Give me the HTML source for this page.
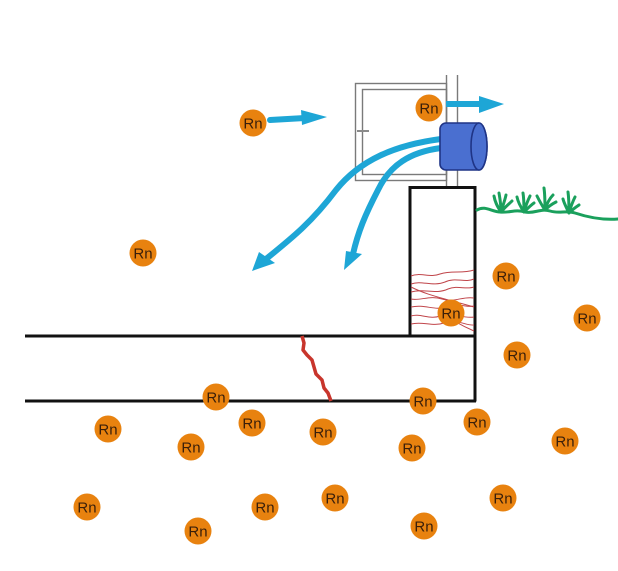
<!DOCTYPE html>
<html><head><meta charset="utf-8"><style>
html,body{margin:0;padding:0;background:#fff;}
svg{display:block;}
text{font-family:"Liberation Sans",sans-serif;font-size:15px;fill:#3a1f0a;text-anchor:middle;dominant-baseline:central;}
</style></head><body>
<svg width="618" height="571" viewBox="0 0 618 571" xmlns="http://www.w3.org/2000/svg">
<rect width="618" height="571" fill="#fff"/>
<!-- window -->
<g fill="none" stroke="#7a7a7a" stroke-width="1.4">
<rect x="355.5" y="83.5" width="91" height="97"/>
<rect x="362.5" y="89.5" width="84" height="85"/>
<line x1="446.5" y1="75" x2="446.5" y2="187"/>
<line x1="457.5" y1="75" x2="457.5" y2="187"/>
</g>
<line x1="357" y1="131" x2="369" y2="131" stroke="#8a8a8a" stroke-width="2"/>
<!-- top arrow -->
<line x1="446" y1="104" x2="482" y2="104" stroke="#1ea6d6" stroke-width="6"/>
<polygon points="479,96 504,104 479,113" fill="#1ea6d6"/>
<!-- left arrow -->
<line x1="270" y1="120" x2="305" y2="118" stroke="#1ea6d6" stroke-width="6" stroke-linecap="round"/>
<polygon points="301,110 327,117 302,125" fill="#1ea6d6"/>
<!-- curved arrows -->
<path d="M441,139 C395,145 360,160 336,190 C312,222 292,238 266,259" fill="none" stroke="#1ea6d6" stroke-width="6"/>
<polygon points="252,271 259,252 275,263" fill="#1ea6d6"/>
<path d="M441,148 C410,152 390,165 378,190 C365,215 358,232 353,254" fill="none" stroke="#1ea6d6" stroke-width="6"/>
<polygon points="344,270 346,251 362,254" fill="#1ea6d6"/>
<!-- fan -->
<path d="M446,123 L479,123 A8,23.5 0 0 1 479,170 L446,170 A6,6 0 0 1 440,164 L440,129 A6,6 0 0 1 446,123 Z" fill="#4a6fd0" stroke="#1f3486" stroke-width="1.6"/>
<ellipse cx="479" cy="146.5" rx="8" ry="23.5" fill="#4a6fd0" stroke="#1f3486" stroke-width="1.6"/>
<!-- wall -->
<g fill="none" stroke="#111" stroke-width="3">
<polyline points="410,336 410,187.5 475,187.5 475,401.5"/>
<line x1="25" y1="336" x2="475" y2="336"/>
<line x1="25" y1="401" x2="476" y2="401"/>
</g>
<!-- red fibers -->
<g fill="none" stroke="#c0454a" stroke-width="1">
<path d="M411,276 C420,272 430,278 440,274 C452,270 462,274 474,270"/>
<path d="M411,284 C422,280 432,287 445,282 C455,277 465,283 474,279"/>
<path d="M411,292 C425,288 435,295 448,289 C458,285 466,290 474,287"/>
<path d="M411,299 C420,301 430,295 442,299 C455,303 462,296 474,298"/>
<path d="M411,307 C425,304 435,311 446,307 C458,302 466,308 474,306"/>
<path d="M411,316 C420,313 430,320 440,316 C452,311 462,319 474,317"/>
<path d="M411,324 C423,321 432,327 444,323 C456,318 466,326 474,325"/>
<path d="M411,287 C425,294 438,297 452,301 C460,303 467,305 474,307"/>
<path d="M440,311 C450,319 460,325 474,331"/>
</g>
<!-- crack -->
<polyline points="302,336 304,343 303,350 307,355 312,360 314,367 316,374 322,380 324,388 328,393 331,401" fill="none" stroke="#c8352c" stroke-width="3.5" stroke-linejoin="round"/>
<!-- grass -->
<g fill="none" stroke="#1aa05c" stroke-width="3" stroke-linecap="round">
<path d="M477,210 C485,205 492,212 500,212 C510,213 515,209 525,212 C535,214 540,208 550,211 C560,214 565,210 575,213 C590,218 605,220 618,219"/>
<path d="M501,212 C497,206 495,202 494,196 M501,212 C501,204 500,199 499,193 M501,212 C503,205 505,200 506,195 M501,212 C505,207 509,204 512,201"/>
<path d="M524,212 C520,206 518,202 517,197 M524,212 C524,204 524,199 523,193 M524,212 C526,205 528,200 530,196 M524,212 C528,208 531,205 534,203"/>
<path d="M545,210 C541,204 539,200 537,196 M545,210 C545,202 545,195 544,188 M545,210 C547,203 550,198 553,195 M545,210 C549,206 552,204 556,202"/>
<path d="M569,213 C566,207 564,203 563,199 M569,213 C569,205 569,199 568,192 M569,213 C571,206 573,201 575,197 M569,213 C573,209 576,207 579,205"/>
</g>
<!-- Rn circles -->
<g>
<g fill="#e8820f">
<circle cx="253" cy="123" r="13.5"/><circle cx="429" cy="108" r="13.5"/>
<circle cx="143" cy="253" r="13.5"/><circle cx="506" cy="276" r="13.5"/>
<circle cx="451" cy="313" r="13.5"/><circle cx="587" cy="318" r="13.5"/>
<circle cx="517" cy="355" r="13.5"/><circle cx="216" cy="397" r="13.5"/>
<circle cx="423" cy="401" r="13.5"/><circle cx="108" cy="429" r="13.5"/>
<circle cx="252" cy="423" r="13.5"/><circle cx="191" cy="447" r="13.5"/>
<circle cx="323" cy="432" r="13.5"/><circle cx="412" cy="448" r="13.5"/>
<circle cx="477" cy="422" r="13.5"/><circle cx="565" cy="441" r="13.5"/>
<circle cx="87" cy="507" r="13.5"/><circle cx="198" cy="531" r="13.5"/>
<circle cx="265" cy="507" r="13.5"/><circle cx="335" cy="498" r="13.5"/>
<circle cx="503" cy="498" r="13.5"/><circle cx="424" cy="526" r="13.5"/>
</g>
<text x="253" y="124">Rn</text><text x="429" y="109">Rn</text>
<text x="143" y="254">Rn</text><text x="506" y="277">Rn</text>
<text x="451" y="314">Rn</text><text x="587" y="319">Rn</text>
<text x="517" y="356">Rn</text><text x="216" y="398">Rn</text>
<text x="423" y="402">Rn</text><text x="108" y="430">Rn</text>
<text x="252" y="424">Rn</text><text x="191" y="448">Rn</text>
<text x="323" y="433">Rn</text><text x="412" y="449">Rn</text>
<text x="477" y="423">Rn</text><text x="565" y="442">Rn</text>
<text x="87" y="508">Rn</text><text x="198" y="532">Rn</text>
<text x="265" y="508">Rn</text><text x="335" y="499">Rn</text>
<text x="503" y="499">Rn</text><text x="424" y="527">Rn</text>
</g>
</svg>
</body></html>
